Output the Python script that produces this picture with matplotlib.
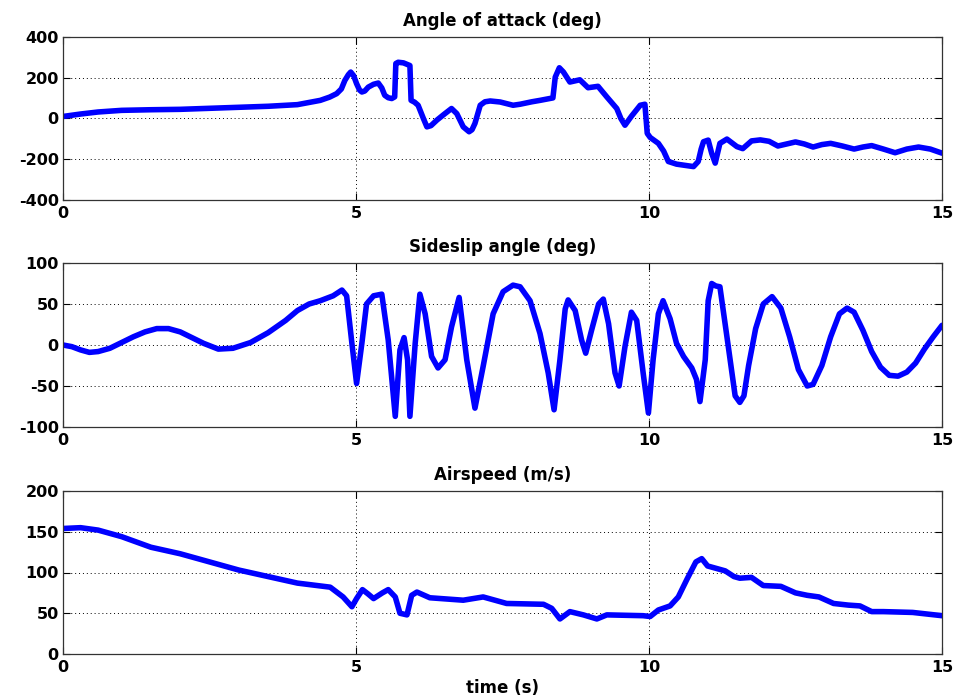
import matplotlib
matplotlib.use("Agg")
import matplotlib.pyplot as plt

# ---- Angle of attack (deg) ----
t_aoa = [0, 0.3, 0.6, 1.0, 1.5, 2.0, 2.5, 3.0, 3.5, 4.0,
         4.39, 4.55, 4.67, 4.75, 4.81, 4.87, 4.91, 4.96, 5.01, 5.06,
         5.10, 5.15, 5.21, 5.3, 5.38, 5.44, 5.49, 5.55, 5.61, 5.66,
         5.68, 5.72, 5.81, 5.92, 5.94, 6.0, 6.06, 6.15, 6.21, 6.28,
         6.38, 6.5, 6.63, 6.72, 6.83, 6.93, 6.98, 7.03, 7.12, 7.2,
         7.29, 7.46, 7.68, 7.8, 8.0, 8.14, 8.36, 8.40, 8.47, 8.54,
         8.65, 8.82, 8.96, 9.13, 9.28, 9.45, 9.52, 9.59, 9.70, 9.85,
         9.93, 9.97, 10.02, 10.16, 10.25, 10.33, 10.47, 10.76, 10.84, 10.89,
         10.93, 11.01, 11.07, 11.13, 11.21, 11.33, 11.5, 11.6, 11.75, 11.9,
         12.05, 12.2, 12.35, 12.5, 12.65, 12.8, 12.95, 13.1, 13.3, 13.5,
         13.65, 13.8, 14.0, 14.2, 14.4, 14.6, 14.8, 15.0]
aoa = [10, 22, 32, 40, 43, 45, 50, 55, 60, 68,
       89, 105, 122, 145, 187, 215, 228, 210, 171, 140,
       130, 135, 154, 168, 174, 150, 114, 102, 98, 106,
       270, 276, 273, 260, 89, 80, 65, 0, -41, -35,
       -8, 20, 49, 24, -41, -65, -55, -24, 65, 82,
       86, 81, 65, 70, 82, 89, 101, 203, 249, 228,
       179, 190, 151, 158, 106, 49, 0, -33, 11, 65,
       70, -73, -93, -122, -160, -211, -224, -236, -211, -150,
       -114, -106, -171, -219, -122, -101, -138, -148, -110, -105,
       -112, -135, -125, -115, -125, -140, -128, -122, -135, -150,
       -140, -133, -150, -168, -150, -140, -150, -170]

# ---- Sideslip angle (deg) ----
t_beta = [0, 0.15, 0.3, 0.45, 0.6, 0.8, 1.0, 1.2, 1.4, 1.6,
          1.8, 2.0, 2.2, 2.4, 2.65, 2.9, 3.2, 3.5, 3.8, 4.0,
          4.2, 4.39, 4.61, 4.76, 4.84, 4.93, 5.01, 5.10, 5.18, 5.30,
          5.44, 5.55, 5.67, 5.75, 5.82, 5.88, 5.92, 6.01, 6.09, 6.18,
          6.29, 6.40, 6.52, 6.63, 6.76, 6.89, 7.03, 7.17, 7.34, 7.51,
          7.68, 7.80, 7.97, 8.14, 8.28, 8.38, 8.48, 8.57, 8.62, 8.74,
          8.85, 8.92, 9.02, 9.14, 9.22, 9.31, 9.42, 9.49, 9.59, 9.70,
          9.79, 9.90, 9.99, 10.07, 10.16, 10.24, 10.36, 10.47, 10.59, 10.73,
          10.81, 10.87, 10.96, 11.01, 11.07, 11.14, 11.21, 11.33, 11.47, 11.55,
          11.62, 11.7, 11.82, 11.95, 12.1, 12.25, 12.4, 12.55, 12.7, 12.8,
          12.95, 13.1, 13.25, 13.38, 13.5, 13.65, 13.8, 13.95, 14.1, 14.25,
          14.4, 14.55, 14.7, 14.85, 15.0]
beta = [0, -2, -6, -9, -8, -4, 3, 10, 16, 20,
        20, 16, 9, 2, -5, -4, 3, 15, 30, 42,
        50, 54, 60, 67, 60, 2, -47, 2, 50, 60,
        62, 6, -87, -6, 9, -18, -87, 2, 62, 38,
        -14, -28, -18, 22, 58, -18, -77, -26, 38, 65,
        73, 71, 54, 14, -34, -79, -18, 44, 55, 42,
        6, -10, 18, 50, 56, 26, -34, -50, -2, 40,
        30, -34, -83, -18, 38, 54, 32, 2, -14, -28,
        -42, -69, -18, 54, 75, 72, 71, 10, -62, -70,
        -62, -25, 20, 50, 59, 45, 10, -30, -50, -48,
        -25, 10, 38, 45, 40, 18, -8, -27, -37, -38,
        -33, -22, -5, 10, 24]

# ---- Airspeed (m/s) ----
t_vel = [0, 0.3, 0.6, 1.0, 1.5, 2.0, 2.5, 3.0, 3.5, 4.0,
         4.56, 4.78, 4.93, 5.01, 5.11, 5.2, 5.30, 5.45, 5.55, 5.67,
         5.75, 5.87, 5.95, 6.04, 6.26, 6.83, 7.17, 7.57, 8.20, 8.34,
         8.48, 8.65, 8.88, 9.11, 9.28, 9.90, 10.02, 10.16, 10.36, 10.5,
         10.65, 10.8, 10.9, 11.0, 11.1, 11.3, 11.45, 11.55, 11.75, 11.95,
         12.25, 12.5, 12.7, 12.9, 13.15, 13.4, 13.6, 13.8, 14.0, 14.5,
         15.0]
vel = [154, 155, 152, 144, 131, 123, 113, 103, 95, 87,
       82, 70, 58, 68, 79, 74, 68, 75, 79, 70,
       50, 48, 72, 76, 69, 66, 70, 62, 61, 56,
       43, 52, 48, 43, 48, 47, 46, 54, 59, 70,
       92, 113, 117, 108, 106, 102, 95, 93, 94, 84,
       83, 75, 72, 70, 62, 60, 59, 52, 52, 51,
       47]

titles = ["Angle of attack (deg)", "Sideslip angle (deg)", "Airspeed (m/s)"]
xlabel = "time (s)"
xticks = [0, 5, 10, 15]
yticks_list = [[-400, -200, 0, 200, 400], [-100, -50, 0, 50, 100], [0, 50, 100, 150, 200]]

plt.rcParams['font.family'] = ['DejaVu Sans']
plt.rcParams['font.weight'] = 'bold'

fig = plt.figure(figsize=(9.57, 6.97), dpi=100)
W, H = 957.0, 697.0
boxes = [(63, 37, 942, 200), (63, 263, 942, 427), (63, 491, 942, 654)]
series = [(t_aoa, aoa), (t_beta, beta), (t_vel, vel)]

for i, ((x0, y0, x1, y1), (tt, yy), title, yt) in enumerate(zip(boxes, series, titles, yticks_list)):
    ax = fig.add_axes([x0 / W, 1 - y1 / H, (x1 - x0) / W, (y1 - y0) / H])
    ax.plot(tt, yy, color='#0000ff', lw=4.0, solid_joinstyle='round', solid_capstyle='round')
    ax.set_xlim(0, 15)
    ax.set_ylim(yt[0], yt[-1])
    ax.set_xticks(xticks)
    ax.set_yticks(yt)
    ax.set_xticklabels([str(v) for v in xticks], fontsize=11.5, fontweight='bold')
    ax.set_yticklabels([str(v) for v in yt], fontsize=11.5, fontweight='bold')
    ax.tick_params(direction='in', length=5, width=0.8, top=True, right=True, pad=3,
                   colors='black')
    ax.tick_params(axis='x', pad=4)
    ax.grid(True, linestyle=(0, (1, 3)), color='black', lw=0.7)
    for s in ax.spines.values():
        s.set_linewidth(0.9)
        s.set_color('#333333')
    ax.set_title(title, fontsize=12, fontweight='bold', pad=8)
    if i == 2:
        ax.set_xlabel(xlabel, fontsize=12, fontweight='bold', labelpad=3)

fig.savefig("out.png", dpi=100)
